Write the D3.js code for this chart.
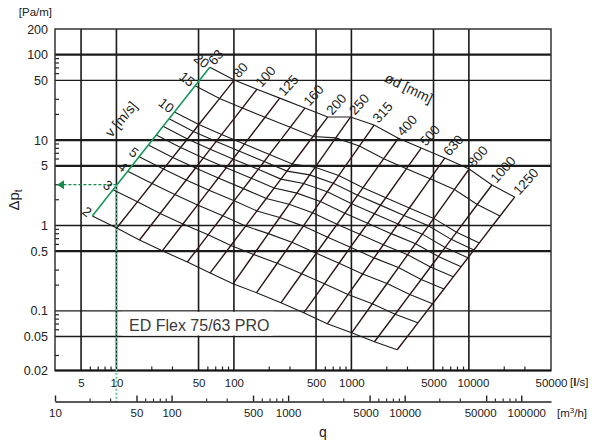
<!DOCTYPE html>
<html>
<head>
<meta charset="utf-8">
<script src="https://cdn.jsdelivr.net/npm/d3@7"></script>
<style>
  body { margin: 0; background: #fff; }
  svg { display: block; font-family: "Liberation Sans", Arial, sans-serif; }
</style>
</head>
<body>
<svg id="chart" width="592" height="445"></svg>
<script>
// duct sizes [mm] and air velocities [m/s] of the nomogram
var diameters = [63, 80, 100, 125, 160, 200, 250, 315, 400, 500, 630, 800, 1000, 1250];
var velocities = [2, 3, 4, 5, 6, 7, 8, 9, 10, 15, 20];
var velocityLabels = [2, 3, 4, 5, 10, 15, 20];

// pressure drop [Pa/m], one row per diameter, one column per velocity
var dpTable = [
  [1.29, 2.62, 4.32, 6.38, 8.77, 11.5, 14.5, 17.8, 21.3, 43.3, 71.4],
  [0.935, 1.89, 3.10, 4.57, 6.27, 8.18, 10.3, 12.6, 15.2, 30.6, 50.4],
  [0.676, 1.38, 2.30, 3.41, 4.71, 6.18, 7.82, 9.64, 11.6, 23.7, 39.4],
  [0.504, 1.04, 1.74, 2.59, 3.60, 4.73, 6.01, 7.43, 8.97, 18.5, 31.0],
  [0.374, 0.776, 1.30, 1.95, 2.70, 3.57, 4.54, 5.61, 6.79, 14.1, 23.7],
  [0.278, 0.582, 0.984, 1.48, 2.07, 2.74, 3.49, 4.33, 5.25, 11.0, 18.6],
  [0.207, 0.457, 0.802, 1.24, 1.77, 2.39, 3.10, 3.91, 4.80, 10.6, 18.6],
  [0.163, 0.361, 0.634, 0.982, 1.41, 1.91, 2.48, 3.12, 3.84, 8.51, 15.0],
  [0.124, 0.272, 0.473, 0.728, 1.03, 1.39, 1.80, 2.26, 2.77, 6.05, 10.5],
  [0.0948, 0.207, 0.361, 0.556, 0.789, 1.06, 1.37, 1.73, 2.11, 4.62, 8.05],
  [0.0705, 0.155, 0.270, 0.417, 0.594, 0.802, 1.04, 1.31, 1.60, 3.52, 6.15],
  [0.0553, 0.121, 0.209, 0.321, 0.455, 0.612, 0.791, 0.991, 1.21, 2.64, 4.58],
  [0.0434, 0.0912, 0.155, 0.233, 0.326, 0.433, 0.553, 0.687, 0.834, 1.76, 2.98],
  [0.0350, 0.0723, 0.121, 0.180, 0.250, 0.329, 0.418, 0.516, 0.624, 1.29, 2.15]
];

// axes
var flowTicks = [5, 10, 50, 100, 500, 1000, 5000, 10000, 50000];
var flowHourTicks = [10, 50, 100, 500, 1000, 5000, 10000, 50000, 100000];
var dpTicks = [0.02, 0.05, 0.1, 0.5, 1, 5, 10, 50, 100, 200];
var flowGrid = [5, 10, 50, 100, 500, 1000, 5000, 10000];
var dpGrid = [0.05, 0.1, 0.5, 1, 5, 10, 50, 100];
var dpGridHeavy = [0.5, 5, 10, 100];
var minorSteps = [2, 3, 6, 7, 8, 9];

// reading example: 10 l/s in the smallest duct
var exampleFlow = 10;
var exampleDp = 3;

var plot = { left: 55, right: 551, top: 29, bottom: 370.5 };

var x = d3.scaleLog().domain([3, 50000]).range([plot.left, plot.right]);
var xh = d3.scaleLog().domain([10, 180000]).range([plot.left, plot.right]);
var y = d3.scaleLog().domain([0.02, 200]).range([plot.bottom, plot.top]);

var svg = d3.select('#chart');

// l/s through a round duct
function flow(d, v) {
  return v * Math.PI * d * d / 4 / 1000;
}

function minorValues(scale, steps) {
  var dom = scale.domain(), out = [];
  for (var e = -3; e <= 6; e++) {
    steps.forEach(function(m) {
      var val = m * Math.pow(10, e);
      if (val > dom[0] * 1.001 && val < dom[1] * 0.999) out.push(val);
    });
  }
  return out;
}

var nodes = diameters.map(function(d, i) {
  return velocities.map(function(v, j) {
    return { d: d, v: v, px: x(flow(d, v)), py: y(dpTable[i][j]) };
  });
});

// grid
var grid = svg.append('g').attr('class', 'grid');

grid.selectAll('line.gv').data(flowGrid).enter().append('line')
  .attr('class', 'gv')
  .attr('x1', function(d) { return x(d); })
  .attr('x2', function(d) { return x(d); })
  .attr('y1', plot.top).attr('y2', plot.bottom)
  .attr('stroke', '#1a1a1a').attr('stroke-width', 1.6);

grid.selectAll('line.gh').data(dpGrid).enter().append('line')
  .attr('class', 'gh')
  .attr('x1', plot.left).attr('x2', plot.right)
  .attr('y1', function(d) { return y(d); })
  .attr('y2', function(d) { return y(d); })
  .attr('stroke', '#1a1a1a')
  .attr('stroke-width', function(d) { return dpGridHeavy.indexOf(d) >= 0 ? 2.2 : 1.4; });

// minor ticks inside the frame
grid.selectAll('line.my').data(minorValues(y, minorSteps)).enter().append('line')
  .attr('x1', plot.left).attr('x2', plot.left + 4)
  .attr('y1', function(d) { return y(d); })
  .attr('y2', function(d) { return y(d); })
  .attr('stroke', '#222').attr('stroke-width', 1.2);

grid.selectAll('line.mx').data(minorValues(x, minorSteps)).enter().append('line')
  .attr('x1', function(d) { return x(d); })
  .attr('x2', function(d) { return x(d); })
  .attr('y1', plot.bottom).attr('y2', plot.bottom - 4)
  .attr('stroke', '#222').attr('stroke-width', 1.2);

// frame
svg.append('rect')
  .attr('x', plot.left).attr('y', plot.top)
  .attr('width', plot.right - plot.left).attr('height', plot.bottom - plot.top)
  .attr('fill', 'none').attr('stroke', '#333').attr('stroke-width', 1.5);
svg.append('line')
  .attr('x1', plot.left).attr('x2', plot.right)
  .attr('y1', plot.bottom).attr('y2', plot.bottom)
  .attr('stroke', '#111').attr('stroke-width', 2);

// product name with a white patch over the grid
svg.append('rect')
  .attr('x', 122).attr('y', y(0.1) + 1)
  .attr('width', 151).attr('height', y(0.05) - y(0.1) - 2)
  .attr('fill', '#fff');
svg.append('text')
  .attr('x', 129).attr('y', 330.5)
  .attr('font-size', 16).attr('fill', '#3a3a3a')
  .text('ED Flex 75/63 PRO');

// nomogram
var line = d3.line()
  .x(function(n) { return n.px; })
  .y(function(n) { return n.py; });

var nomo = svg.append('g').attr('class', 'nomogram');

// constant velocity lines
nomo.selectAll('path.vel').data(velocities).enter().append('path')
  .attr('class', 'vel')
  .attr('d', function(v, j) { return line(nodes.map(function(row) { return row[j]; })); })
  .attr('fill', 'none').attr('stroke', '#1e1e1e').attr('stroke-width', 1.1);

// constant diameter lines, the first one doubles as the velocity scale
nomo.selectAll('path.dia').data(nodes).enter().append('path')
  .attr('class', 'dia')
  .attr('d', function(row) { return line(row); })
  .attr('fill', 'none')
  .attr('stroke', function(row, i) { return i === 0 ? '#16995a' : '#2e1616'; })
  .attr('stroke-width', function(row, i) { return i === 0 ? 1.6 : 1.4; });

// example reading
var ex = { px: x(exampleFlow), py: y(exampleDp) };
nomo.append('line')
  .attr('x1', ex.px).attr('x2', ex.px)
  .attr('y1', ex.py).attr('y2', 404)
  .attr('stroke', '#6cc598').attr('stroke-width', 2).attr('stroke-dasharray', '2,2');
nomo.append('line')
  .attr('x1', ex.px).attr('x2', plot.left + 8)
  .attr('y1', ex.py).attr('y2', ex.py)
  .attr('stroke', '#178a4f').attr('stroke-width', 1.3).attr('stroke-dasharray', '3,2');
nomo.append('path')
  .attr('d', 'M' + (plot.left + 2) + ',' + ex.py + 'l7,-4.5v9z')
  .attr('fill', '#178a4f');

// labels
var labels = svg.append('g').attr('class', 'labels').attr('fill', '#1e1e1e');

var dAng = -48, dRad = dAng * Math.PI / 180;
labels.selectAll('text.dl').data(diameters).enter().append('text')
  .attr('class', 'dl')
  .attr('transform', function(d, i) {
    var n = nodes[i][velocities.length - 1];
    var px = n.px + Math.cos(dRad) * 4 + Math.sin(dRad) * 2;
    var py = n.py + Math.sin(dRad) * 4 - Math.cos(dRad) * 2;
    return 'translate(' + px + ',' + py + ') rotate(' + dAng + ')';
  })
  .attr('font-size', 13.5)
  .attr('dominant-baseline', 'central')
  .text(function(d) { return d; });

var vAng = 38, vRad = vAng * Math.PI / 180;
labels.selectAll('text.vl').data(velocityLabels).enter().append('text')
  .attr('class', 'vl')
  .attr('transform', function(v) {
    var n = nodes[0][velocities.indexOf(v)];
    var px = n.px - Math.cos(vRad) * 3;
    var py = n.py - Math.sin(vRad) * 3;
    return 'translate(' + px + ',' + py + ') rotate(' + vAng + ')';
  })
  .attr('font-size', 13.5)
  .attr('text-anchor', 'end')
  .attr('dominant-baseline', 'central')
  .text(function(v) { return v; });

labels.append('text')
  .attr('transform', 'translate(121,119) rotate(-50)')
  .attr('font-size', 14).attr('text-anchor', 'middle').attr('dominant-baseline', 'central')
  .text('v [m/s]');

labels.append('text')
  .attr('transform', 'translate(409,88) rotate(26)')
  .attr('font-size', 14).attr('text-anchor', 'middle').attr('dominant-baseline', 'central')
  .text('ød [mm]');

// axes
var axisFont = 11.5;
// small sideways nudges so the crowded labels sit like in the print
var flowNudge = { 10000: 4 };
var flowHourNudge = { 5000: -4, 50000: -6, 100000: 5 };

var yAxis = svg.append('g')
  .attr('transform', 'translate(' + plot.left + ',0)')
  .call(d3.axisLeft(y).tickValues(dpTicks).tickSize(0).tickPadding(7)
    .tickFormat(function(d) { return String(d); }));
yAxis.select('.domain').remove();
yAxis.selectAll('text').attr('font-size', 12.5).attr('fill', '#222').attr('font-family', null);

var xAxis = svg.append('g')
  .attr('transform', 'translate(0,' + plot.bottom + ')')
  .call(d3.axisBottom(x).tickValues(flowTicks).tickSize(0).tickPadding(8)
    .tickFormat(function(d) { return String(d); }));
xAxis.select('.domain').remove();
xAxis.selectAll('text').attr('font-size', axisFont).attr('fill', '#222').attr('font-family', null)
  .attr('dx', function(d) { return flowNudge[d] || 0; });

var hAxisY = 401.5;
var hAxis = svg.append('g')
  .attr('transform', 'translate(0,' + hAxisY + ')')
  .call(d3.axisBottom(xh).tickValues(flowHourTicks).tickSizeInner(-6).tickSizeOuter(0).tickPadding(7)
    .tickFormat(function(d) { return String(d); }));
hAxis.select('.domain').attr('stroke', '#222').attr('stroke-width', 1.6);
hAxis.selectAll('.tick line').attr('stroke', '#222').attr('stroke-width', 1.4);
hAxis.selectAll('text').attr('font-size', axisFont).attr('fill', '#222').attr('font-family', null)
  .attr('dx', function(d) { return flowHourNudge[d] || 0; });
hAxis.selectAll('line.mh').data(minorValues(xh, minorSteps)).enter().append('line')
  .attr('class', 'mh')
  .attr('x1', function(d) { return xh(d); })
  .attr('x2', function(d) { return xh(d); })
  .attr('y1', 0).attr('y2', -3)
  .attr('stroke', '#222').attr('stroke-width', 1.1);

// units and axis titles
var ls = svg.append('text').attr('x', 570).attr('y', 385.5)
  .attr('font-size', axisFont).attr('fill', '#222');
ls.append('tspan').text('[');
ls.append('tspan').attr('font-weight', 'bold').text('l');
ls.append('tspan').text('/s]');

var mh = svg.append('text').attr('x', 557).attr('y', 416.5)
  .attr('font-size', axisFont).attr('fill', '#222');
mh.append('tspan').text('[m');
mh.append('tspan').attr('font-size', 8).attr('dy', -4).text('3');
mh.append('tspan').attr('dy', 4).text('/h]');

svg.append('text').attr('x', 52).attr('y', 16)
  .attr('font-size', axisFont).attr('fill', '#222').attr('text-anchor', 'end')
  .text('[Pa/m]');

var dpt = svg.append('text')
  .attr('transform', 'translate(19,200) rotate(-90)')
  .attr('font-size', 15).attr('fill', '#222').attr('text-anchor', 'middle');
dpt.append('tspan').text('Δp');
dpt.append('tspan').attr('font-size', 10).attr('dy', 3).text('t');

svg.append('text').attr('x', 323).attr('y', 437)
  .attr('font-size', 14).attr('fill', '#222').attr('text-anchor', 'middle')
  .text('q');
</script>
</body>
</html>
